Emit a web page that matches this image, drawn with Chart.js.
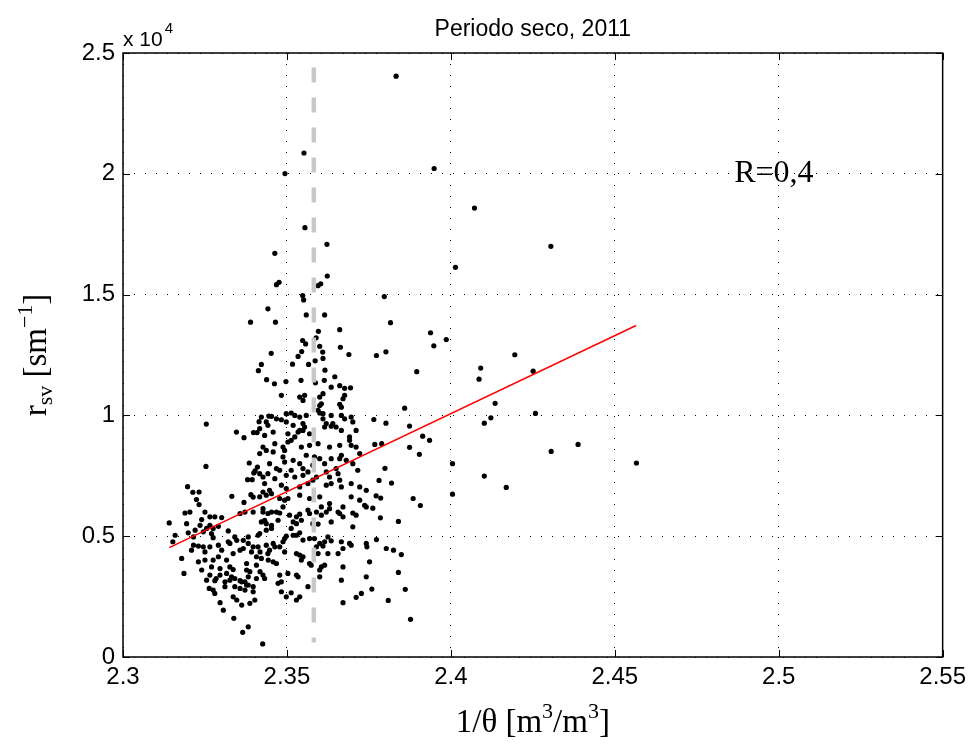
<!DOCTYPE html>
<html>
<head>
<meta charset="utf-8">
<title>Periodo seco, 2011</title>
<script src="https://cdn.jsdelivr.net/npm/chart.js@4.4.1/dist/chart.umd.min.js"></script>
<style>
  html, body { margin: 0; padding: 0; background: #fff; }
  #chart { display: block; }
</style>
</head>
<body>
<canvas id="chart" width="972" height="745"></canvas>
<script>

// upper part of the cloud and the tall outliers
const upperX = [2.3833,2.3552,2.3949,2.3494,2.3555,2.3622,2.3463,2.4014,2.3623,2.3476,
  2.3468,2.3603,2.3595,2.3548,2.3551,2.3797,2.3442,2.3389,2.3465,2.3559,
  2.3615,2.3816,2.3661,2.3596,2.3589,2.3938,2.3986,2.3948,2.3548,2.3557,
  2.3600,2.3663,2.3545,2.3609,2.3452,2.3689,2.3773,2.3802,2.3534,2.3610,
  2.3422,2.3517,2.3566,2.3586,2.3413,2.3616,2.3896,2.3438,2.3462,2.3497,
  2.3543,2.3587,2.3614,2.3646,2.3661,2.3676,2.3694];
const upperY = [24040,20860,20220,20010,17770,17080,16710,16130,15770,15510,
  15410,15450,15370,14960,14780,14920,14410,13860,13860,14160,
  14160,13840,13550,13480,13210,13420,13140,12880,13100,12960,
  12860,12820,12640,12620,12570,12520,12480,12630,12440,12360,
  12110,12120,12110,12260,11850,11870,11810,11480,11310,11400,
  11450,11350,11450,11600,11230,11120,11140];

// sparse points right of 2.385
const rightX = [2.4072,2.4305,2.4195,2.4091,2.4086,2.4251,2.4135,2.3859,2.4258,2.4122,
  2.4102,2.3874,2.3914,2.3935,2.3874,2.3904,2.4388,2.4306,2.4566,2.4005,
  2.4102,2.4169,2.4005];
const rightY = [18580,17000,12510,11960,11500,11830,10500,10300,10080,9900,
  9680,9560,9140,8970,8680,8390,8800,8510,8030,8000,
  7490,7020,6740];

// right edge of the cloud (2.374 - 2.391)
const edgeX = [2.3765,2.3802,2.3768,2.3789,2.3799,2.3781,2.3819,2.3885,2.3907,2.3772,
  2.3786,2.3762,2.3785,2.3840,2.3773,2.3803,2.3825,2.3849,2.3840,2.3861,
  2.3877,2.3809,2.3759,2.3744];
const edgeY = [9830,9680,8800,8830,7810,7310,7200,6560,6270,6670,
  6580,6160,5760,5610,4860,4490,4420,4240,3500,2800,
  1560,2340,2810,4560];

// left side, middle height
const leftUpX = [2.3422,2.3445,2.3254,2.3415,2.3398,2.3409,2.3346,2.3369,2.3253,2.3385,
  2.3410,2.3403,2.3399,2.3380,2.3394,2.3197,2.3213,2.3232,2.3427,2.3224,
  2.3232,2.3332,2.3390,2.3397,2.3369];
const leftUpY = [9930,9970,9640,9740,9290,9290,9310,9080,7890,8030,
  7860,7700,7620,7340,7340,7050,6820,6830,6830,6520,
  6310,6650,6720,6620,6400];

// core of the cloud, 0.6 - 1.1 x 10^4
const coreX = [2.3635,2.3483,2.3539,2.3554,2.3600,2.3610,2.3676,2.3671,2.3549,2.3600,
  2.3605,2.3661,2.3666,2.3595,2.3600,2.3453,2.3468,2.3498,2.3513,2.3524,
  2.3539,2.3559,2.3610,2.3610,2.3635,2.3666,2.3676,2.3696,2.3437,2.3442,
  2.3483,2.3498,2.3519,2.3549,2.3554,2.3549,2.3539,2.3620,2.3640,2.3650,
  2.3701,2.3417,2.3458,2.3432,2.3503,2.3524,2.3534,2.3569,2.3615,2.3635,
  2.3666,2.3691,2.3711,2.3427,2.3437,2.3463,2.3488,2.3503,2.3513,2.3544,
  2.3569,2.3595,2.3630,2.3661,2.3691,2.3696,2.3711,2.3417,2.3458,2.3493,
  2.3488,2.3519,2.3559,2.3584,2.3600,2.3635,2.3661,2.3666,2.3681,2.3722,
  2.3447,2.3468,2.3493,2.3539,2.3549,2.3579,2.3615,2.3650,2.3701,2.3716,
  2.3417,2.3427,2.3442,2.3463,2.3478,2.3498,2.3513,2.3524,2.3549,2.3564,
  2.3590,2.3620,2.3630,2.3656,2.3666,2.3432,2.3447,2.3483,2.3498,2.3539,
  2.3564,2.3579,2.3620,2.3635,2.3661,2.3696,2.3722,2.3742,2.3417,2.3437,
  2.3453,2.3478,2.3493,2.3503,2.3539,2.3569,2.3600,2.3630,2.3671,2.3696,
  2.3722,2.3742,2.3427,2.3488,2.3564,2.3605,2.3630,2.3737];
const coreY = [11170,10830,10760,10830,10760,10900,10830,10690,10620,10410,
  10480,10460,10340,10210,10100,9960,9860,10070,10100,10000,
  9930,10000,10070,9860,10000,10000,9860,9930,9730,9590,
  9820,9730,9590,9660,9520,9380,9380,9660,9660,9520,
  9730,9450,9310,9170,9240,9110,9310,9240,9520,9550,
  9380,9110,9380,8690,8550,8830,8690,8900,8970,8690,
  8760,8830,8690,8760,8970,8760,8690,8420,8490,8550,
  8280,8140,8350,8280,8210,8210,8210,8350,8140,8420,
  8000,7800,8070,8000,7800,7940,8000,7800,8000,7730,
  7590,7450,7590,7380,7730,7520,7730,7450,7520,7660,
  7450,7660,7450,7590,7040,7180,6900,7110,6970,7040,
  7180,7320,7110,7180,7320,7180,7040,6900,6630,6700,
  6760,6560,6490,6560,6700,6560,6630,6350,6210,6630,
  6490,6210,6140,6210,6080,6210,6140,6280];

// lower left block (1/theta < 2.344)
const lowLeftX = [2.3189,2.3204,2.3250,2.3265,2.3280,2.3301,2.3357,2.3372,2.3397,2.3141,
  2.3194,2.3235,2.3240,2.3265,2.3255,2.3275,2.3291,2.3220,2.3159,2.3199,
  2.3215,2.3245,2.3270,2.3275,2.3321,2.3341,2.3367,2.3382,2.3412,2.3152,
  2.3215,2.3230,2.3245,2.3209,2.3250,2.3265,2.3291,2.3301,2.3321,2.3326,
  2.3347,2.3357,2.3367,2.3382,2.3397,2.3412,2.3179,2.3230,2.3250,2.3275,
  2.3291,2.3316,2.3336,2.3377,2.3392,2.3407,2.3418,2.3443,2.3240,2.3270,
  2.3296,2.3326,2.3336,2.3377,2.3387,2.3407,2.3418,2.3186,2.3265,2.3284,
  2.3296,2.3316,2.3331,2.3341,2.3357,2.3372,2.3382,2.3407,2.3255,2.3280,
  2.3311,2.3326,2.3362,2.3377,2.3263,2.3275,2.3280,2.3311,2.3341,2.3357,
  2.3372,2.3382,2.3397,2.3397,2.3336,2.3347,2.3362,2.3387,2.3402,2.3296,
  2.3306,2.3338,2.3382,2.3365,2.3426];
const lowLeftY = [5960,6000,6000,5800,5800,5770,5940,6000,6000,5550,
  5520,5450,5690,5450,5320,5320,5410,5250,5040,5140,
  4970,5180,5110,4940,5220,4970,4830,4970,5040,4770,
  4630,4590,4560,4420,4350,4560,4630,4420,4770,4700,
  4830,4420,4490,4700,4560,4560,4080,3940,4010,4010,
  4150,4010,4280,3870,4350,4150,4350,4010,3600,3730,
  3660,3730,3620,3600,3530,3800,3530,3460,3390,3250,
  3390,3460,3320,3250,3160,3110,3320,3250,3180,3160,
  3110,3180,3110,2980,2840,2770,2630,2910,2910,2840,
  2770,2980,2910,2700,2490,2360,2150,2220,2360,2250,
  1940,1600,1250,1020,540];

// lower middle block (2.342 - 2.376)
const lowMidX = [2.3427,2.3442,2.3453,2.3468,2.3478,2.3508,2.3529,2.3539,2.3569,2.3590,
  2.3605,2.3620,2.3656,2.3661,2.3701,2.3711,2.3422,2.3432,2.3437,2.3453,
  2.3473,2.3519,2.3529,2.3544,2.3579,2.3595,2.3635,2.3671,2.3417,2.3437,
  2.3453,2.3493,2.3488,2.3498,2.3513,2.3519,2.3529,2.3539,2.3549,2.3569,
  2.3584,2.3600,2.3615,2.3625,2.3635,2.3666,2.3691,2.3742,2.3701,2.3437,
  2.3458,2.3463,2.3447,2.3442,2.3478,2.3529,2.3539,2.3549,2.3590,2.3610,
  2.3625,2.3656,2.3671,2.3696,2.3422,2.3458,2.3468,2.3493,2.3544,2.3569,
  2.3574,2.3595,2.3605,2.3600,2.3615,2.3671,2.3752,2.3427,2.3432,2.3478,
  2.3483,2.3473,2.3503,2.3529,2.3534,2.3600,2.3666,2.3742,2.3483,2.3498,
  2.3513,2.3529,2.3539,2.3564,2.3671,2.3711,2.3727];
const lowMidY = [6000,5940,6000,6000,5960,5870,5800,5910,5940,6000,
  5870,6000,6000,5940,5960,5870,5590,5660,5520,5450,
  5660,5590,5520,5660,5520,5500,5590,5800,5110,5250,
  5320,4900,4770,5000,5320,5040,5040,5140,4840,4900,
  4900,4700,4770,4970,4810,4770,4700,4700,5390,4630,
  4700,4560,4420,4280,4560,4280,4220,4150,4560,4590,
  4280,4280,4490,4630,4080,3940,3870,4350,4010,3870,
  3800,4280,3730,3600,3800,3730,3940,3390,3250,3390,
  3110,3050,3460,3390,3320,3320,3180,3320,2700,2490,
  2660,2360,2490,2910,2250,2470,2630];

// regression line end points and the vertical reference line
const fitX = [2.3141, 2.4565];
const fitY = [4530, 13720];
const refX = 2.3582;
const refY = [24400, 600];

// axes
const xTicks = [2.3, 2.35, 2.4, 2.45, 2.5, 2.55];
const yTicks = [0, 5000, 10000, 15000, 20000, 25000];
const yMultiplier = 1e4;
const corrLabel = 'R=0,4';
const corrPos = { x: 2.4864, y: 20000 };

const SANS = '"Liberation Sans", Arial, Helvetica, sans-serif';
const SERIF = '"Liberation Serif", "Times New Roman", serif';

const groupsX = [upperX, rightX, edgeX, leftUpX, coreX, lowLeftX, lowMidX];
const groupsY = [upperY, rightY, edgeY, leftUpY, coreY, lowLeftY, lowMidY];
const points = [];
groupsX.forEach((gx, g) => {
  gx.forEach((v, i) => points.push({ x: v, y: groupsY[g][i] }));
});

// draws a run of text pieces (with sub/superscripts) centred on (0, 0)
function drawRich(ctx, parts) {
  let total = 0;
  parts.forEach(p => {
    ctx.font = p.size + 'px ' + p.family;
    p.w = ctx.measureText(p.text).width;
    total += p.w;
  });
  let cx = -total / 2;
  ctx.textAlign = 'left';
  ctx.textBaseline = 'alphabetic';
  parts.forEach(p => {
    ctx.font = p.size + 'px ' + p.family;
    ctx.fillText(p.text, cx, p.dy || 0);
    cx += p.w;
  });
}

const decorations = {
  id: 'decorations',
  afterDraw(chart) {
    const { ctx, chartArea: a, scales: { x, y } } = chart;
    ctx.save();
    ctx.fillStyle = '#000';
    ctx.strokeStyle = '#000';
    ctx.setLineDash([]);

    // box round the axes
    ctx.lineWidth = 1.5;
    ctx.strokeRect(a.left, a.top, a.right - a.left, a.bottom - a.top);

    // ticks pointing inwards, on all four sides
    const tl = 7;
    ctx.lineWidth = 1;
    ctx.beginPath();
    x.ticks.forEach(t => {
      const px = Math.round(x.getPixelForValue(t.value)) + 0.5;
      ctx.moveTo(px, a.bottom); ctx.lineTo(px, a.bottom - tl);
      ctx.moveTo(px, a.top); ctx.lineTo(px, a.top + tl);
    });
    y.ticks.forEach(t => {
      const py = Math.round(y.getPixelForValue(t.value)) + 0.5;
      ctx.moveTo(a.left, py); ctx.lineTo(a.left + tl, py);
      ctx.moveTo(a.right, py); ctx.lineTo(a.right - tl, py);
    });
    ctx.stroke();

    const midX = (a.left + a.right) / 2;
    const midY = (a.top + a.bottom) / 2;

    // title
    ctx.font = '23px ' + SANS;
    ctx.textAlign = 'center';
    ctx.textBaseline = 'alphabetic';
    ctx.fillText('Periodo seco, 2011', midX, 36);

    // exponent of the y axis
    ctx.textAlign = 'left';
    ctx.font = '21px ' + SANS;
    ctx.fillText('x 10', a.left, 46);
    const w10 = ctx.measureText('x 10').width;
    ctx.font = '15px ' + SANS;
    ctx.fillText('4', a.left + w10 + 2, 33);

    // x axis label
    ctx.save();
    ctx.translate(midX, 732);
    drawRich(ctx, [
      { text: '1/\u03b8 [m', size: 33, family: SERIF },
      { text: '3', size: 22, family: SERIF, dy: -14 },
      { text: '/m', size: 33, family: SERIF },
      { text: '3', size: 22, family: SERIF, dy: -14 },
      { text: ']', size: 33, family: SERIF }
    ]);
    ctx.restore();

    // y axis label
    ctx.save();
    ctx.translate(46, midY);
    ctx.rotate(-Math.PI / 2);
    drawRich(ctx, [
      { text: 'r', size: 33, family: SERIF },
      { text: 'sv', size: 22, family: SERIF, dy: 6 },
      { text: ' [sm', size: 33, family: SERIF },
      { text: '\u22121', size: 22, family: SERIF, dy: -14 },
      { text: ']', size: 33, family: SERIF }
    ]);
    ctx.restore();

    // correlation note
    ctx.font = '32px ' + SERIF;
    ctx.textAlign = 'left';
    ctx.textBaseline = 'middle';
    ctx.fillText(corrLabel, x.getPixelForValue(corrPos.x), y.getPixelForValue(corrPos.y));

    ctx.restore();
  }
};

new Chart(document.getElementById('chart'), {
  type: 'scatter',
  data: {
    datasets: [
      {
        label: 'fit',
        data: fitX.map((v, i) => ({ x: v, y: fitY[i] })),
        showLine: true,
        borderColor: '#ff0000',
        borderWidth: 1.5,
        pointRadius: 0,
        order: 0
      },
      {
        label: 'reference',
        data: refY.map(v => ({ x: refX, y: v })),
        showLine: true,
        borderColor: '#c8c8c8',
        borderWidth: 4.5,
        borderDash: [15, 15],
        borderCapStyle: 'butt',
        pointRadius: 0,
        order: 1
      },
      {
        label: 'r_sv',
        data: points,
        pointRadius: 2.6,
        pointBackgroundColor: '#000',
        pointBorderWidth: 0,
        order: 2
      }
    ]
  },
  options: {
    responsive: false,
    animation: false,
    devicePixelRatio: 1,
    layout: { padding: { top: 53, right: 28, left: 0, bottom: 0 } },
    plugins: {
      legend: { display: false },
      tooltip: { enabled: false },
      title: { display: false }
    },
    scales: {
      x: {
        type: 'linear',
        min: 2.3,
        max: 2.55,
        afterBuildTicks: s => { s.ticks = xTicks.map(v => ({ value: v })); },
        afterFit: s => { s.height = 88; },
        ticks: {
          color: '#000',
          font: { family: SANS, size: 24 },
          padding: 6,
          maxRotation: 0,
          autoSkip: false,
          callback: v => String(Number(v.toFixed(2)))
        },
        grid: { color: '#000', lineWidth: 1, drawTicks: false },
        border: { display: false, dash: [1, 10] }
      },
      y: {
        type: 'linear',
        min: 0,
        max: 25000,
        afterBuildTicks: s => { s.ticks = yTicks.map(v => ({ value: v })); },
        afterFit: s => { s.width = 123; },
        ticks: {
          color: '#000',
          font: { family: SANS, size: 24 },
          padding: 8,
          autoSkip: false,
          callback: v => String(v / yMultiplier)
        },
        grid: { color: '#000', lineWidth: 1, drawTicks: false },
        border: { display: false, dash: [1, 10] }
      }
    }
  },
  plugins: [decorations]
});
</script>
</body>
</html>
